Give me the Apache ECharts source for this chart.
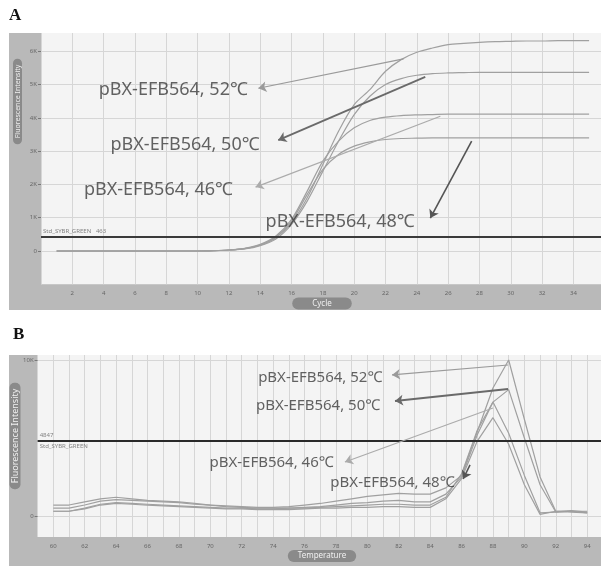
<!DOCTYPE html>
<html><head><meta charset="utf-8">
<script src="https://cdn.jsdelivr.net/npm/echarts@6/dist/echarts.min.js"></script>
<style>html,body{margin:0;padding:0;background:#fff}#c{width:601px;height:566px}</style>
</head><body><div id="c"></div>
<script>
// ---------- Panel A: amplification (cycle vs fluorescence, K units) ----------
const cycles = [1,2,3,4,5,6,7,8,9,10,11,12,13,14,15,16,17,18,19,20,21,22,23,24,25,26,27,28,29,30,31,32,33,34,35];
const ampA52 = [0,0,0,0,0,0,0,0,0,0,0.01,0.03,0.07,0.18,0.40,0.85,1.60,2.60,3.60,4.40,4.85,5.40,5.75,5.97,6.10,6.20,6.24,6.27,6.29,6.30,6.31,6.31,6.32,6.32,6.32];
const ampA50 = [0,0,0,0,0,0,0,0,0,0,0.01,0.03,0.06,0.16,0.36,0.80,1.50,2.40,3.30,4.10,4.65,5.00,5.18,5.28,5.33,5.35,5.36,5.37,5.37,5.37,5.37,5.37,5.37,5.37,5.37];
const ampA46 = [0,0,0,0,0,0,0,0,0,0,0.01,0.03,0.08,0.20,0.45,0.95,1.80,2.70,3.30,3.70,3.92,4.02,4.07,4.09,4.10,4.11,4.11,4.11,4.11,4.11,4.11,4.11,4.11,4.11,4.11];
const ampA48 = [0,0,0,0,0,0,0,0,0,0,0.01,0.03,0.07,0.18,0.42,0.90,1.70,2.45,2.90,3.15,3.28,3.35,3.38,3.39,3.40,3.40,3.40,3.40,3.40,3.40,3.40,3.40,3.40,3.40,3.40];
const thresholdA = 0.42;
const thresholdLabelA = 'Std_SYBR_GREEN   463';
const yTicksA = [0,1,2,3,4,5,6];

// ---------- Panel B: melt curve (temperature vs fluorescence, K units) ----------
const temps = [60,61,62,63,64,65,66,67,68,69,70,71,72,73,74,75,76,77,78,79,80,81,82,83,84,85,86,87,88,89,90,91,92,93,94];
const meltB52 = [0.7,0.7,0.9,1.1,1.2,1.1,1.0,0.95,0.9,0.8,0.7,0.65,0.6,0.55,0.55,0.6,0.7,0.8,0.95,1.1,1.25,1.35,1.45,1.4,1.4,1.8,2.6,5.4,8.2,10.0,6.2,2.5,0.3,0.35,0.25];
const meltB50 = [0.5,0.5,0.7,0.95,1.05,1.0,0.95,0.9,0.85,0.75,0.7,0.6,0.55,0.5,0.5,0.5,0.55,0.6,0.7,0.8,0.85,0.95,1.0,0.9,0.9,1.4,2.5,5.2,7.3,8.1,5.0,2.0,0.25,0.3,0.3];
const meltB46 = [0.3,0.3,0.5,0.75,0.85,0.8,0.75,0.7,0.65,0.6,0.55,0.5,0.5,0.45,0.45,0.5,0.5,0.55,0.6,0.65,0.7,0.75,0.75,0.7,0.7,1.2,2.7,5.5,7.3,5.3,2.6,0.2,0.25,0.3,0.2];
const meltB48 = [0.3,0.3,0.45,0.7,0.8,0.75,0.7,0.65,0.6,0.55,0.5,0.45,0.45,0.4,0.4,0.4,0.45,0.5,0.5,0.55,0.55,0.6,0.6,0.55,0.55,1.1,2.4,4.8,6.3,4.6,2.0,0.1,0.3,0.25,0.2];
const thresholdB = 4.847;
const thresholdLabelB = ['4847', 'Std_SYBR_GREEN'];
const yTicksB = [0,10];

// ---------- annotations (texts and data-space anchors) ----------
const annotTexts = ['pBX-EFB564, 52\u2103','pBX-EFB564, 50\u2103','pBX-EFB564, 46\u2103','pBX-EFB564, 48\u2103'];
const annotA = [ // [fromX, fromY, toX, toY, textX, textY]
  [23.15,5.77,13.88,4.89,8.45,4.83],
  [24.54,5.23,15.15,3.33,9.2,3.18],
  [25.5,4.05,13.7,1.92,7.5,1.83],
  [27.5,3.30,24.86,0.99,19.1,0.87]
];
const annotB = [
  [88.96,9.68,81.57,9.04,77.0,8.85],
  [88.96,8.14,81.76,7.37,76.86,7.05],
  [88.0,6.92,78.57,3.46,73.9,3.4],
  [86.54,3.27,86.1,2.37,81.6,2.1]
];

const arrowColors = ['#9a9a9a','#6a6a6a','#ababab','#555555'];
const arrowWidths = [1.2,1.8,1.2,1.6];
const curveColor = '#a0a0a0';
const font = 'Noto Sans';

function pairs(xs, ys){ return xs.map((x,i)=>[x, ys[i]]); }

const chart = echarts.init(document.getElementById('c'), null, {renderer:'canvas'});

function arrowLines(annots){
  return annots.map((a,i)=>[
    {coord:[a[0],a[1]], symbol:'none', lineStyle:{color:arrowColors[i], width:arrowWidths[i], type:'solid'}},
    {coord:[a[2],a[3]], symbol:'arrow', symbolSize:8}
  ]);
}
function textPoints(annots){
  return annots.map((a,i)=>({value:[a[4],a[5]], name:annotTexts[i]}));
}

const seriesA = [ampA52, ampA50, ampA46, ampA48].map((d,i)=>({
  type:'line', xAxisIndex:0, yAxisIndex:0, data:pairs(cycles,d), showSymbol:false, smooth:0.3,
  lineStyle:{color:curveColor, width:1.2}, silent:true, z:3
}));
const seriesB = [meltB52, meltB50, meltB46, meltB48].map((d,i)=>({
  type:'line', xAxisIndex:1, yAxisIndex:1, data:pairs(temps,d), showSymbol:false,
  lineStyle:{color:curveColor, width:1.2}, silent:true, z:3
}));

seriesA[0].markLine = {silent:true, symbol:['none','none'], animation:false, label:{show:false},
  data:[[{coord:[0,thresholdA], lineStyle:{color:'#3a3a3a', width:2.2, type:'solid'}},{coord:[35.76,thresholdA]}]].concat(arrowLines(annotA))};
seriesB[0].markLine = {silent:true, symbol:['none','none'], animation:false, label:{show:false},
  data:[[{coord:[59,thresholdB], lineStyle:{color:'#2a2a2a', width:2.2, type:'solid'}},{coord:[94.88,thresholdB]}]].concat(arrowLines(annotB))};

const textSeries = (xi, annots, fs) => ({
  type:'scatter', xAxisIndex:xi, yAxisIndex:xi, symbolSize:1, itemStyle:{color:'rgba(0,0,0,0)'},
  data:textPoints(annots), silent:true, z:10,
  label:{show:true, position:'inside', formatter:p=>p.name, fontFamily:font, fontSize:fs, color:'#3c3c3c'}
});
const smallText = (xi, items) => ({
  type:'scatter', xAxisIndex:xi, yAxisIndex:xi, symbolSize:1, itemStyle:{color:'rgba(0,0,0,0)'},
  data:items, silent:true, z:10,
  label:{show:true, position:'right', distance:0, formatter:p=>p.name, fontFamily:font, fontSize:6, color:'#666'}
});

const option = {
  animation:false,
  backgroundColor:'#fff',
  graphic:[
    {type:'rect', z:-10, shape:{x:9,y:33,width:592,height:277}, style:{fill:'#b9b9b9'}},
    {type:'rect', z:-10, shape:{x:9,y:355,width:592,height:211}, style:{fill:'#b9b9b9'}},
    {type:'text', x:9, y:7, style:{text:'A', font:'bold 17px "Liberation Serif", serif', fill:'#111'}},
    {type:'text', x:13, y:326, style:{text:'B', font:'bold 17px "Liberation Serif", serif', fill:'#111'}},
    {type:'text', x:17.5, y:101.5, rotation:Math.PI/2, style:{text:'Fluorescence Intensity', font:'7px "Noto Sans"', fill:'#f0f0f0', align:'center', verticalAlign:'middle', backgroundColor:'#8a8a8a', borderRadius:5, padding:[1,6]}},
    {type:'text', x:15, y:436, rotation:Math.PI/2, style:{text:'Fluorescence Intensity', font:'9px "Noto Sans"', fill:'#f0f0f0', align:'center', verticalAlign:'middle', backgroundColor:'#8a8a8a', borderRadius:5, padding:[1,6]}},
    {type:'text', x:322, y:303.5, style:{text:'Cycle', font:'8px "Noto Sans"', fill:'#f0f0f0', align:'center', verticalAlign:'middle', backgroundColor:'#8a8a8a', borderRadius:6, padding:[2,20]}},
    {type:'text', x:322, y:556, style:{text:'Temperature', font:'8px "Noto Sans"', fill:'#f0f0f0', align:'center', verticalAlign:'middle', backgroundColor:'#8a8a8a', borderRadius:6, padding:[2,10]}}
  ],
  grid:[
    {left:41, top:33, width:560, height:251.3, show:true, backgroundColor:'#f4f4f4', borderWidth:0},
    {left:37.6, top:355, width:563.4, height:182, show:true, backgroundColor:'#f4f4f4', borderWidth:0}
  ],
  xAxis:[
    {type:'value', gridIndex:0, min:0, max:35.76, interval:2,
     axisLine:{show:false}, axisTick:{show:false},
     axisLabel:{fontSize:6, color:'#666', margin:6, fontFamily:font, showMinLabel:false, showMaxLabel:false, formatter:v=>(v%2===0?String(v):'')},
     splitLine:{show:true, lineStyle:{color:'#d6d6d6', width:1}}},
    {type:'value', gridIndex:1, min:59, max:94.88, interval:1,
     axisLine:{show:false}, axisTick:{show:false},
     axisLabel:{fontSize:6, color:'#666', margin:6, fontFamily:font, showMinLabel:false, showMaxLabel:false, formatter:v=>(Number.isInteger(v)&&v%2===0?String(v):'')},
     splitLine:{show:true, lineStyle:{color:'#d6d6d6', width:1}}}
  ],
  yAxis:[
    {type:'value', gridIndex:0, min:-1, max:6.55, interval:1,
     axisLine:{show:false}, axisTick:{show:true, length:3, lineStyle:{color:'#777'}, customValues:yTicksA},
     axisLabel:{fontSize:6, color:'#666', margin:4, fontFamily:font, customValues:yTicksA, formatter:v=>(v===0?'0':v+'K')},
     splitLine:{show:true, lineStyle:{color:'#d6d6d6', width:1}}},
    {type:'value', gridIndex:1, min:-1.35, max:10.32,
     axisLine:{show:false}, axisTick:{show:true, length:3, lineStyle:{color:'#777'}, customValues:yTicksB},
     axisLabel:{fontSize:6, color:'#666', margin:4, fontFamily:font, customValues:yTicksB, formatter:v=>(v===0?'0':v+'K')},
     splitLine:{show:true, lineStyle:{color:'#d6d6d6', width:1}}}
  ],
  series: seriesA.concat(seriesB, [
    textSeries(0, annotA, 18),
    textSeries(1, annotB, 15),
    smallText(0, [{value:[0.1, thresholdA+0.17], name:thresholdLabelA}]),
    smallText(1, [{value:[59.1, thresholdB+0.35], name:thresholdLabelB[0]}, {value:[59.1, thresholdB-0.35], name:thresholdLabelB[1]}])
  ])
};
chart.setOption(option);
</script></body></html>
